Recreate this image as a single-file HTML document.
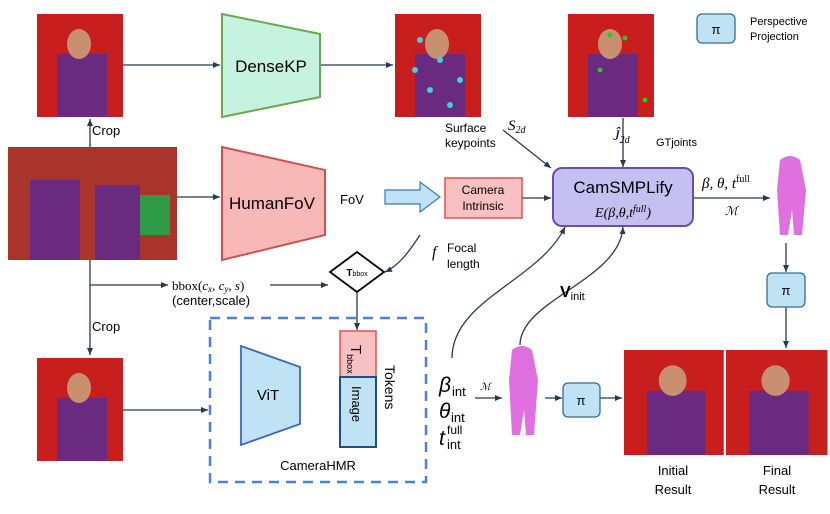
<!DOCTYPE html>
<html><head><style>body{margin:0;background:#fff}svg{display:block}text{font-family:"Liberation Sans",sans-serif}.m{font-family:"Liberation Serif",serif;font-style:italic}</style></head><body>
<svg width="830" height="514" viewBox="0 0 830 514" xmlns="http://www.w3.org/2000/svg">
<defs>
<marker id="a" markerWidth="8" markerHeight="8" refX="7" refY="4" orient="auto" markerUnits="userSpaceOnUse"><path d="M0,1 L7,4 L0,7 Z" fill="#243a55"/></marker>
<g id="ph"><rect width="86" height="103" fill="#c81e1e"/><rect x="20" y="40" width="50" height="63" fill="#6a2a80"/><ellipse cx="42" cy="30" rx="12" ry="15" fill="#c89070"/></g>
</defs>
<g fill="none" stroke="#243a55" stroke-width="1.3" marker-end="url(#a)">
<path d="M122,65 L220,65"/><path d="M320,65 L393,65"/>
<path d="M90,147 L90,119"/><path d="M177,197 L220,197"/>
<path d="M90,260 L90,355"/><path d="M90,285 L168,285"/>
<path d="M270,285 L328,285"/>
<path d="M122,410 L208,410"/>
<path d="M357,292 L357,330"/>
<path d="M522,198 L551,198"/>
<path d="M693,198 L770,198"/>
<path d="M786,243 L786,272"/><path d="M786,307 L786,348"/>
<path d="M503,130 L551,168"/><path d="M623,118 L623,167"/>
<path d="M420,235 C410,250 400,265 385,272"/>
<path d="M452,358 C452,300 540,280 565,227"/>
<path d="M520,345 C520,300 620,280 623,227"/>
<path d="M475,398 L502,398"/>
<path d="M545,398 L562,398"/><path d="M600,398 L622,398"/>
</g>
<use href="#ph" x="37" y="14"/><use href="#ph" x="37" y="358"/>
<use href="#ph" x="395" y="14"/><use href="#ph" x="568" y="14"/>
<g transform="translate(624,350) scale(1.16,1.02)"><use href="#ph"/></g>
<g transform="translate(726,350) scale(1.18,1.02)"><use href="#ph"/></g>
<rect x="8" y="147" width="169" height="113" fill="#a8342c"/>
<rect x="30" y="180" width="50" height="80" fill="#6a2a80"/><rect x="95" y="185" width="45" height="75" fill="#6a2a80"/>
<rect x="140" y="195" width="30" height="40" fill="#2e9b48"/>
<g fill="#3dd0e0"><circle cx="420" cy="40" r="3"/><circle cx="440" cy="60" r="3"/><circle cx="430" cy="90" r="3"/><circle cx="460" cy="80" r="3"/><circle cx="450" cy="105" r="3"/><circle cx="415" cy="70" r="3"/></g>
<g fill="#2c2"><circle cx="610" cy="35" r="2.5"/><circle cx="625" cy="38" r="2.5"/><circle cx="600" cy="70" r="2.5"/><circle cx="645" cy="100" r="2.5"/></g>
<polygon points="222,14 320,34 320,97 222,117" fill="#c6f3df" stroke="#6aa84f" stroke-width="2"/>
<text x="271" y="72" font-size="17" text-anchor="middle">DenseKP</text>
<polygon points="222,147 325,170 325,235 222,260" fill="#f8b8b8" stroke="#d05050" stroke-width="2"/>
<text x="272" y="209" font-size="17" text-anchor="middle">HumanFoV</text>
<text x="340" y="204" font-size="13">FoV</text>
<polygon points="385,190 420,190 420,182 440,197 420,212 420,204 385,204" fill="#bfe3f5" stroke="#3a7ab8" stroke-width="1.2"/>
<rect x="445" y="178" width="77" height="40" fill="#f8c0c0" stroke="#e05050" stroke-width="1.5"/>
<text x="483" y="194" font-size="12" text-anchor="middle">Camera</text><text x="483" y="210" font-size="12" text-anchor="middle">Intrinsic</text>
<rect x="553" y="168" width="140" height="58" rx="9" fill="#c6c0f2" stroke="#6a50a7" stroke-width="2"/>
<text x="623" y="193" font-size="17" text-anchor="middle">CamSMPLify</text>
<text x="623" y="217" font-size="14" text-anchor="middle" class="m">E(β,θ,t<tspan font-size="10" dy="-5">full</tspan><tspan dy="5">)</tspan></text>
<text x="702" y="188" font-size="15" class="m">β, θ, t<tspan font-size="10" dy="-6" font-style="normal">full</tspan></text>
<text x="725" y="215" font-size="12" class="m">ℳ</text>
<path d="M780,160 q10,-8 20,0 l6,30 -4,45 h-8 l-2,-25 -4,25 h-8 l-3,-45 z" fill="#e070e0"/>
<path d="M512,350 q10,-8 20,0 l6,30 -4,55 h-8 l-2,-25 -4,25 h-8 l-3,-55 z" fill="#e070e0"/>
<rect x="697" y="14" width="38" height="29" rx="5" fill="#bfe3f5" stroke="#3a6a90" stroke-width="1.3"/><text x="716" y="34" font-size="13" text-anchor="middle">π</text>
<text x="750" y="25" font-size="11">Perspective</text><text x="750" y="40" font-size="11">Projection</text>
<rect x="767" y="273" width="38" height="34" rx="5" fill="#bfe3f5" stroke="#3a6a90" stroke-width="1.3"/><text x="786" y="295" font-size="13" text-anchor="middle">π</text>
<rect x="563" y="383" width="37" height="34" rx="5" fill="#bfe3f5" stroke="#3a6a90" stroke-width="1.3"/><text x="581" y="405" font-size="13" text-anchor="middle">π</text>
<text x="92" y="135" font-size="13">Crop</text><text x="92" y="331" font-size="13">Crop</text>
<text x="172" y="290" font-size="13" class="m"><tspan font-style="normal">bbox(</tspan>c<tspan font-size="9" dy="2">x</tspan><tspan dy="-2">, c</tspan><tspan font-size="9" dy="2">y</tspan><tspan dy="-2">, s</tspan><tspan font-style="normal">)</tspan></text>
<text x="172" y="305" font-size="13">(center,scale)</text>
<polygon points="357,252 384,272 357,292 330,272" fill="#fff" stroke="#000" stroke-width="1.8"/>
<text x="357" y="276" font-size="10" text-anchor="middle" font-family="Liberation Serif" font-weight="bold">T<tspan font-size="7" font-weight="normal">bbox</tspan></text>
<text x="445" y="132" font-size="12">Surface</text><text x="445" y="147" font-size="12">keypoints</text>
<text x="508" y="130" font-size="15" class="m">S<tspan font-size="10" dy="3">2d</tspan></text>
<text x="613" y="140" font-size="15" class="m">Ĵ<tspan font-size="10" dy="3">2d</tspan></text>
<text x="656" y="146" font-size="11">GTjoints</text>
<text x="432" y="257" font-size="16" class="m">f</text>
<text x="447" y="252" font-size="12">Focal</text><text x="447" y="268" font-size="12">length</text>
<text x="560" y="297" font-size="16" font-family="Liberation Serif" font-weight="bold">V<tspan font-size="11" font-weight="normal" dy="3">init</tspan></text>
<rect x="210" y="318" width="216" height="164" fill="none" stroke="#4a80e0" stroke-width="2.5" stroke-dasharray="10,7"/>
<polygon points="241,346 300,367 300,424 241,445" fill="#bfe3f5" stroke="#3a6ab8" stroke-width="1.8"/>
<text x="268" y="400" font-size="15" text-anchor="middle">ViT</text>
<rect x="340" y="331" width="36" height="46" fill="#f8c0c0" stroke="#e05050" stroke-width="1.5"/>
<rect x="340" y="377" width="36" height="70" fill="#bfe3f5" stroke="#1f4f88" stroke-width="2"/>
<text transform="translate(351,345) rotate(90)" font-size="15">T<tspan font-size="9" dy="4">bbox</tspan></text>
<text transform="translate(352,386) rotate(90)" font-size="13">Image</text>
<text transform="translate(385,365) rotate(90)" font-size="14">Tokens</text>
<text x="318" y="470" font-size="13" text-anchor="middle">CameraHMR</text>
<g font-family="Liberation Serif" font-size="21">
<text x="439" y="392" font-style="italic">β</text><text x="452" y="396" font-size="13">int</text>
<text x="439" y="418" font-style="italic">θ</text><text x="451" y="422" font-size="13">int</text>
<text x="439" y="445" font-style="italic">t</text><text x="447" y="449" font-size="13">int</text><text x="447" y="434" font-size="12">full</text>
</g>
<text x="480" y="390" font-size="10" class="m">ℳ</text>
<text x="673" y="475" font-size="13" text-anchor="middle">Initial</text><text x="673" y="494" font-size="13" text-anchor="middle">Result</text>
<text x="777" y="475" font-size="13" text-anchor="middle">Final</text><text x="777" y="494" font-size="13" text-anchor="middle">Result</text>
</svg>
</body></html>
